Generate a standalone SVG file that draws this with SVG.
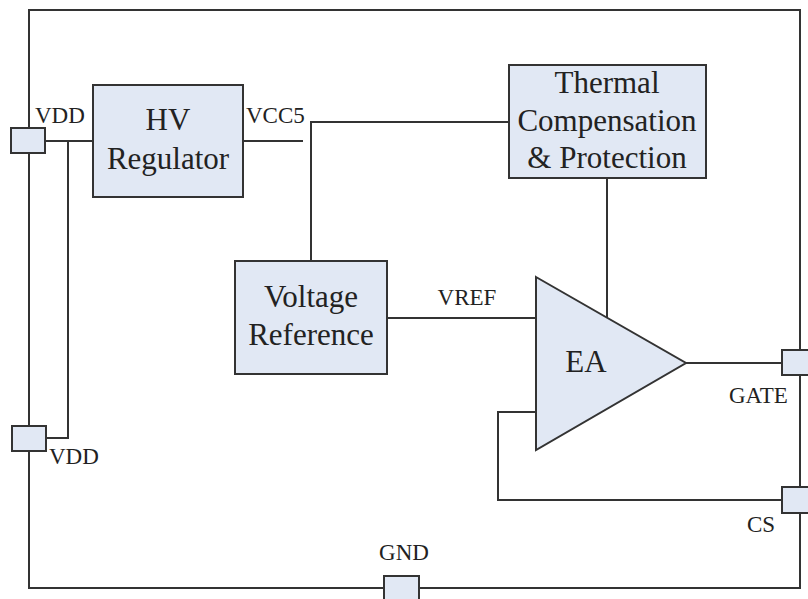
<svg xmlns="http://www.w3.org/2000/svg" width="808" height="599" viewBox="0 0 808 599">
<style>
.ln{fill:none;stroke:#333;stroke-width:2}
.bx{fill:#e1e8f4;stroke:#333;stroke-width:2}
.big{font-family:"Liberation Serif","Times New Roman",serif;font-size:31px;fill:#222;text-anchor:middle}
.sm{font-family:"Liberation Serif","Times New Roman",serif;font-size:23px;fill:#222}
</style>
<rect width="808" height="599" fill="#fff"/>
<g id="border"><rect x="29" y="10" width="771" height="578" class="ln"/></g>
<g id="connectors">
<path class="ln" d="M45 141H93"/>
<path class="ln" d="M68 141V438H46"/>
<path class="ln" d="M243 141H303"/>
<path class="ln" d="M311 262V122H509"/>
<path class="ln" d="M607 178V318"/>
<path class="ln" d="M387 318H536"/>
<path class="ln" d="M686 363H782"/>
<path class="ln" d="M536 412H498V500H782"/>
</g>
<g id="pin-vdd1"><rect x="11" y="128" width="34" height="25" class="bx"/><text x="35" y="123" class="sm">VDD</text></g>
<g id="pin-vdd2"><rect x="12" y="426" width="34" height="25" class="bx"/><text x="49" y="464" class="sm">VDD</text></g>
<g id="pin-gate"><rect x="782" y="350" width="36" height="25" class="bx"/><text x="729" y="403" class="sm">GATE</text></g>
<g id="pin-cs"><rect x="782" y="487" width="36" height="26" class="bx"/><text x="747" y="532" class="sm">CS</text></g>
<g id="pin-gnd"><rect x="384" y="576" width="35" height="30" class="bx"/><text x="404" y="560" class="sm" text-anchor="middle">GND</text></g>
<g id="hv-regulator"><rect x="93" y="85" width="150" height="112" class="bx"/><text x="168" y="130" class="big">HV</text><text x="168" y="169" class="big">Regulator</text></g>
<g id="lbl-vcc5"><text x="246" y="123" class="sm">VCC5</text></g>
<g id="thermal"><rect x="509" y="65" width="197" height="113" class="bx"/><text x="607" y="93" class="big">Thermal</text><text x="607" y="131" class="big">Compensation</text><text x="607" y="168" class="big">&amp; Protection</text></g>
<g id="vref"><rect x="235" y="261" width="152" height="113" class="bx"/><text x="311" y="307" class="big">Voltage</text><text x="311" y="345" class="big">Reference</text></g>
<g id="lbl-vref"><text x="467" y="305" class="sm" text-anchor="middle">VREF</text></g>
<g id="ea"><path d="M536 277L686 363L536 450Z" class="bx"/><text x="586" y="372" class="big">EA</text></g>
</svg>
